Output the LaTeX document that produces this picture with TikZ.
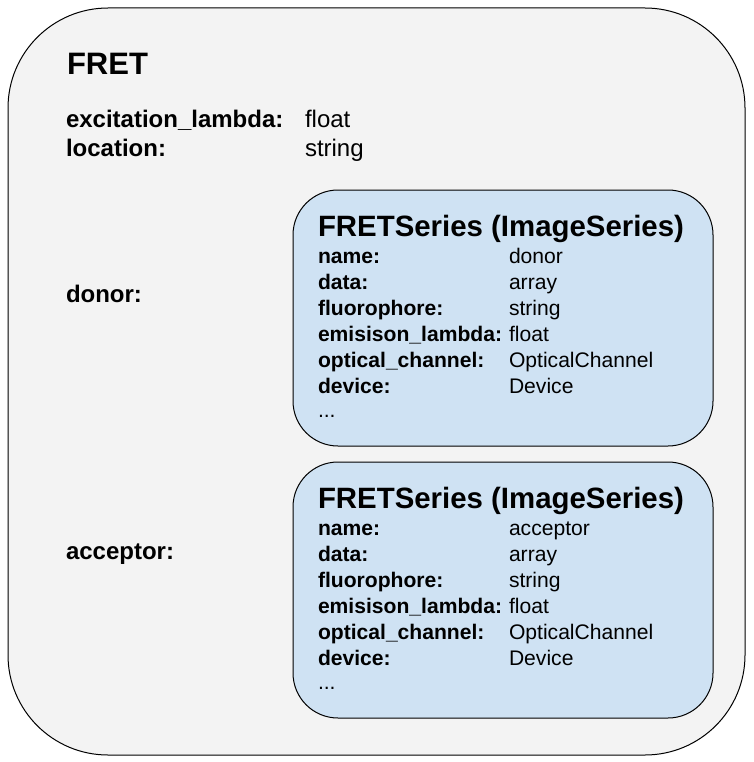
\documentclass[tikz,border=0pt]{standalone}
\usepackage{fontspec}
\setmainfont{Liberation Sans}
\usetikzlibrary{positioning}

\definecolor{fretfill}{HTML}{F3F3F3}
\definecolor{seriesfill}{HTML}{CFE2F3}

\begin{document}
\begin{tikzpicture}[x=1pt, y=-1pt, font=\fontsize{24}{29}\selectfont]
\tikzset{every node/.style={inner sep=0pt, outer sep=0pt}}

\tikzstyle{container}=[draw=black, fill=fretfill, line width=1pt, rounded corners=100pt, minimum width=737pt, minimum height=747pt]
\tikzstyle{series}=[draw=black, fill=seriesfill, line width=1pt, rounded corners=45pt, minimum width=420pt, minimum height=256pt]
\tikzstyle{title}=[anchor=base west, font=\fontsize{31}{36}\selectfont\bfseries]
\tikzstyle{header}=[anchor=base west, font=\fontsize{29.4}{34}\selectfont\bfseries]
\tikzstyle{key}=[anchor=base west, font=\fontsize{24}{29}\selectfont\bfseries]
\tikzstyle{val}=[anchor=base west, font=\fontsize{24}{29}\selectfont]
\tikzstyle{subkey}=[anchor=base west, font=\fontsize{21.1}{26}\selectfont\bfseries]
\tikzstyle{subval}=[anchor=base west, font=\fontsize{21.1}{26}\selectfont]

\useasboundingbox (0,0) rectangle (753,762);

% outer FRET container
\node[container] (fret) at (376.5,381.5) {};
\node[title] (fret title) at (67,75) {FRET};

\node[key] (lambda key) at (66,128) {excitation\_lambda:};
\node[val] (lambda val) at (305,128) {float};
\node[key] (location key) at (66,157) {location:};
\node[val] (location val) at (305,157) {string};

\node[key] (donor key) at (66,302) {donor:};
\node[key] (acceptor key) at (66,559) {acceptor:};

% the two FRETSeries boxes
\foreach \s/\dy in {donor/0, acceptor/272} {
    \node[series] (\s box) at (503,318+\dy) {};
    \node[header] (\s header) at (318,236+\dy) {FRETSeries (ImageSeries)};
    \foreach \k/\v [count=\i] in {name:/\s, data:/array, fluorophore:/string,
                                  emisison\_lambda:/float, optical\_channel:/OpticalChannel, device:/Device} {
        \node[subkey] (\s key \i) at (318,263+26*\i-26+\dy) {\k};
        \node[subval] (\s val \i) at (509,263+26*\i-26+\dy) {\v};
    }
    \node[subval] (\s dots) at (318,417+\dy) {...};
}

\end{tikzpicture}
\end{document}
